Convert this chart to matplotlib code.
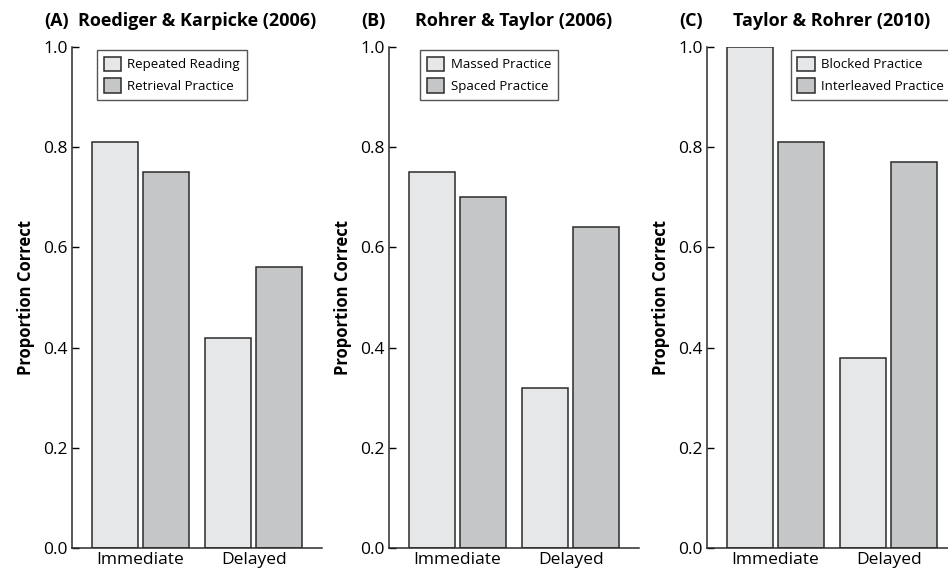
import matplotlib
matplotlib.use("Agg")
import matplotlib.pyplot as plt
import numpy as np

plt.rcParams['font.family'] = ['Open Sans', 'DejaVu Sans']

# data
groups = ["Immediate", "Delayed"]
panel_labels = ["(A)", "(B)", "(C)"]
studies = ["Roediger & Karpicke (2006)", "Rohrer & Taylor (2006)", "Taylor & Rohrer (2010)"]
first_names = ["Repeated Reading", "Massed Practice", "Blocked Practice"]
second_names = ["Retrieval Practice", "Spaced Practice", "Interleaved Practice"]
first_vals = [[0.81, 0.42], [0.75, 0.32], [1.00, 0.38]]
second_vals = [[0.75, 0.56], [0.70, 0.64], [0.81, 0.77]]
yticks = [0.0, 0.2, 0.4, 0.6, 0.8, 1.0]

LIGHT = "#e6e7e8"
DARK = "#c5c6c8"
EDGE = "#2b2b2b"

fig = plt.figure(figsize=(9.48, 5.70), dpi=100)

lefts = [72, 389, 707]
legend_x = [0.10, 0.125, 0.335]
W, H = 948, 570

for i in range(3):
    ax = fig.add_axes([lefts[i] / W, 1 - 548 / H, 250 / W, 501 / H])
    x = np.arange(len(groups))
    off = 0.224
    width = 0.405
    ax.bar(x - off, first_vals[i], width, color=LIGHT, edgecolor=EDGE,
           linewidth=1.1, label=first_names[i])
    ax.bar(x + off, second_vals[i], width, color=DARK, edgecolor=EDGE,
           linewidth=1.1, label=second_names[i])
    ax.set_xlim(-0.6, 1.6)
    ax.set_ylim(0, 1.0)
    ax.set_yticks(yticks)
    ax.set_yticklabels(["%.1f" % v for v in yticks])
    ax.set_xticks(x)
    ax.set_xticklabels(groups)
    ax.tick_params(axis='y', direction='in', length=5, width=1, labelsize=12.5, pad=3)
    ax.tick_params(axis='x', length=0, labelsize=12.5, pad=3)
    for s in ['top', 'right']:
        ax.spines[s].set_visible(False)
    for s in ['left', 'bottom']:
        ax.spines[s].set_linewidth(1.1)
        ax.spines[s].set_color(EDGE)
    ax.set_ylabel("Proportion Correct", fontsize=12, fontweight='bold', labelpad=6)
    ax.text(0.5, 1.034, studies[i], transform=ax.transAxes, ha='center',
            va='bottom', fontsize=13, fontweight='bold')
    ax.text(-0.112, 1.034, panel_labels[i], transform=ax.transAxes, ha='left',
            va='bottom', fontsize=13, fontweight='bold')
    leg = ax.legend(loc='upper left', bbox_to_anchor=(legend_x[i], 0.994),
                    fontsize=9.5, frameon=True, fancybox=False,
                    handlelength=1.3, handleheight=1.3, handletextpad=0.5,
                    borderpad=0.5, labelspacing=0.55, borderaxespad=0)
    leg.get_frame().set_edgecolor(EDGE)
    leg.get_frame().set_linewidth(1.0)

fig.savefig("out.png", dpi=100)
